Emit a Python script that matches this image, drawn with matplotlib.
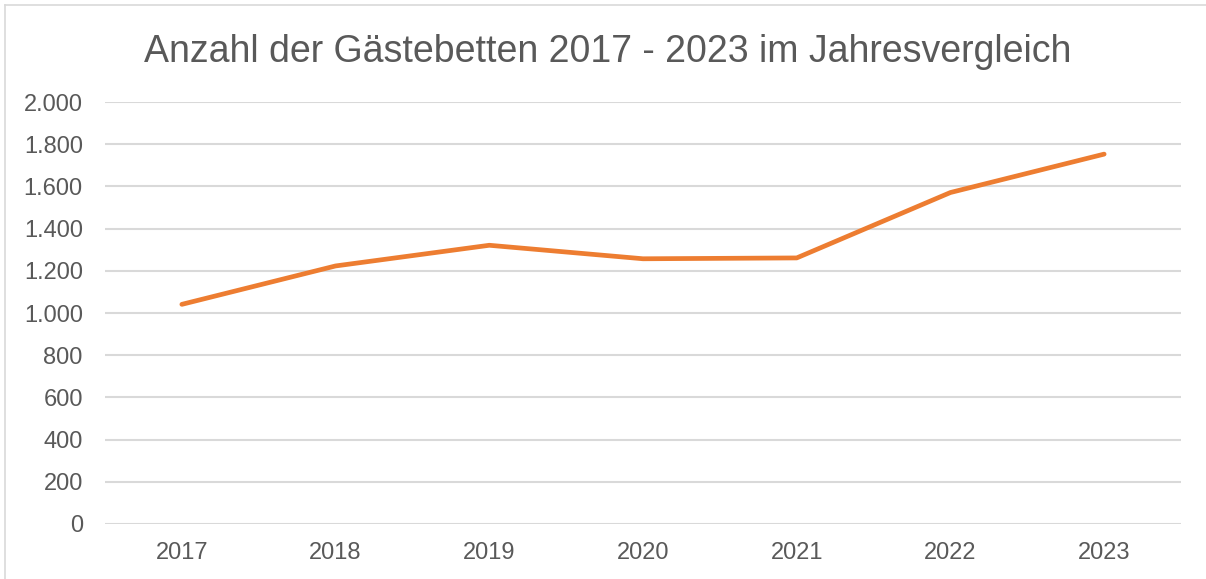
import matplotlib.pyplot as plt
from matplotlib.lines import Line2D
from matplotlib.ticker import FuncFormatter

plt.rcParams['font.family'] = ['Liberation Sans', 'DejaVu Sans']

years = ["2017", "2018", "2019", "2020", "2021", "2022", "2023"]
betten = [1041, 1223, 1321, 1257, 1261, 1571, 1753]
y_ticks = [0, 200, 400, 600, 800, 1000, 1200, 1400, 1600, 1800, 2000]

TEXT = "#595959"
GRID = "#D9D9D9"
ORANGE = "#ED7D31"

fig = plt.figure(figsize=(12.06, 5.79), dpi=100)
ax = fig.add_axes([105 / 1206, 1 - 524 / 579, (1181 - 105) / 1206, (524 - 102) / 579])

x = range(len(years))
ax.plot(x, betten, color=ORANGE, lw=3.4, solid_capstyle="round", solid_joinstyle="round", zorder=3)

ax.set_xlim(-0.5, len(years) - 0.5)
ax.set_ylim(0, 2000)
ax.set_xticks(list(x))
ax.set_xticklabels(years)
ax.set_yticks(y_ticks)
ax.yaxis.set_major_formatter(FuncFormatter(lambda v, p: f"{int(v):,}".replace(",", ".")))

ax.grid(axis="y", color=GRID, lw=1.5)
ax.set_axisbelow(True)
for s in ax.spines.values():
    s.set_visible(False)
ax.tick_params(length=0, labelsize=17, labelcolor=TEXT)
ax.tick_params(axis="x", pad=13)
ax.tick_params(axis="y", pad=16)

fig.text(0.504, 1 - 62 / 579, "Anzahl der Gästebetten 2017 - 2023 im Jahresvergleich",
         ha="center", va="baseline", fontsize=27, color=TEXT)

# chart frame (top and left edges visible)
fig.add_artist(Line2D([5 / 1206, 1], [1 - 5 / 579] * 2, color=GRID, lw=1.2, transform=fig.transFigure))
fig.add_artist(Line2D([5 / 1206] * 2, [0, 1 - 5 / 579], color=GRID, lw=1.2, transform=fig.transFigure))

fig.savefig("out.png", dpi=100)
